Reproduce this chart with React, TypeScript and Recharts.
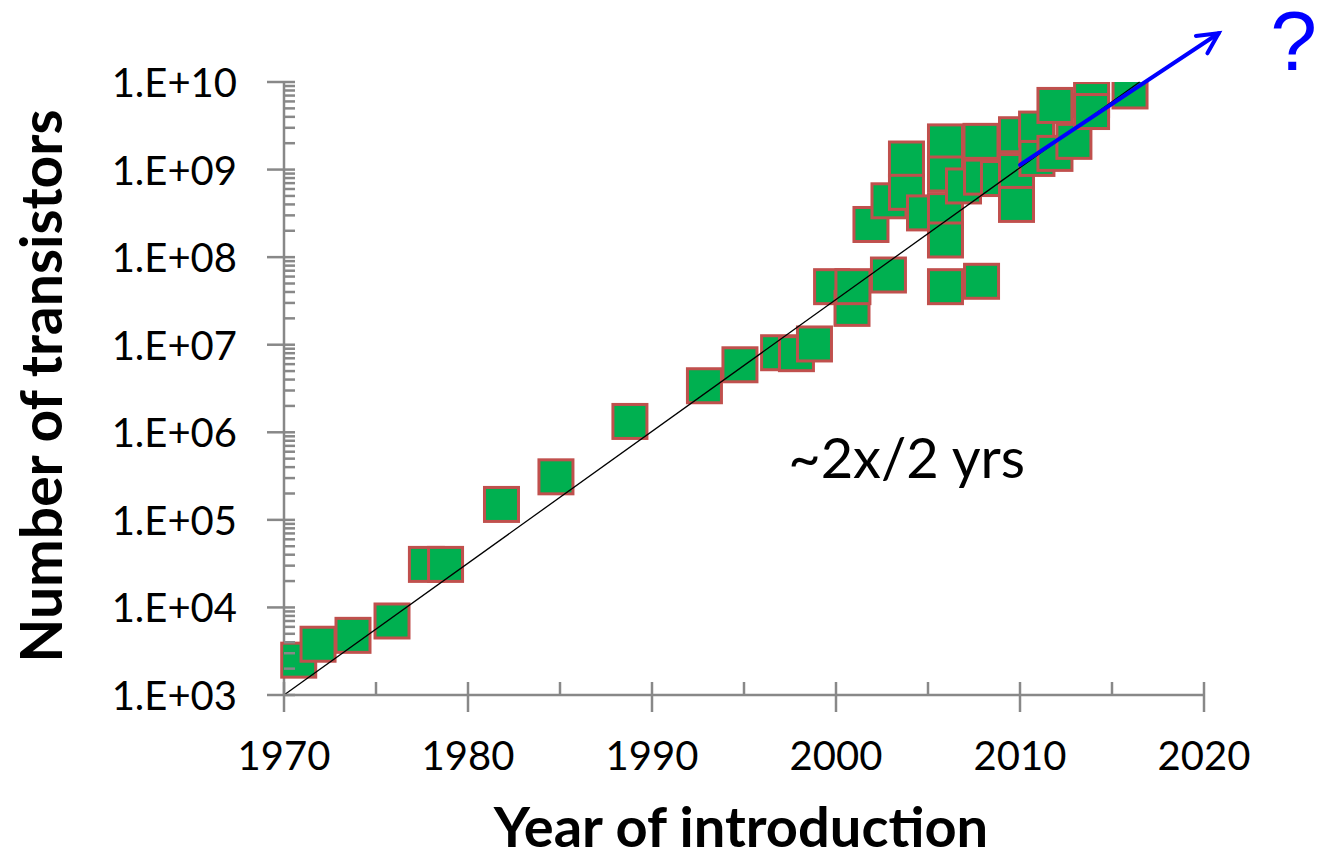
import { ScatterChart, Scatter, XAxis, YAxis, ReferenceLine, ReferenceDot, Label } from "recharts";

// year of introduction and transistor count per chip
const introYears = [
  1970.8, 1971.85, 1973.75, 1975.87, 1977.74, 1978.78, 1981.82, 1984.78, 1988.8, 1992.85,
  1994.78, 1996.88, 1997.85, 1998.83, 1999.76, 2000.87, 2000.92, 2001.9, 2002.85, 2002.88,
  2003.83, 2003.83, 2004.81, 2005.95, 2005.95, 2005.95, 2005.95, 2005.95, 2006.93, 2007.88,
  2007.91, 2007.91, 2008.83, 2009.81, 2009.81, 2009.81, 2010.9, 2010.92, 2011.9, 2011.9,
  2012.93, 2013.89, 2013.89, 2015.98,
];
const transistorCounts = [
  2.5e3, 3.8e3, 4.8e3, 7.0e3, 3.1e4, 3.1e4, 1.5e5, 3.1e5, 1.33e6, 3.4e6,
  5.9e6, 8.1e6, 7.9e6, 1.02e7, 4.6e7, 2.6e7, 4.6e7, 2.36e8, 6.25e7, 4.4e8,
  1.32e9, 5.5e8, 3.2e8, 2.07e9, 8.9e8, 3.4e8, 1.57e8, 4.6e7, 6.5e8, 2.1e9,
  8.2e8, 5.3e7, 7.9e8, 2.5e9, 9.5e8, 4.0e8, 2.9e9, 1.34e9, 5.4e9, 1.53e9,
  2.1e9, 6.3e9, 4.6e9, 7.9e9,
];

// doubling every two years, and the extrapolation arrow
const trendLine = [
  { year: 1970, count: 1e3 },
  { year: 2016.5, count: 1e10 },
];
const arrowLine = [
  { year: 2010, count: 1.13e9 },
  { year: 2020.8, count: 3.6e10 },
];

const xTicks = [1970, 1975, 1980, 1985, 1990, 1995, 2000, 2005, 2010, 2015, 2020];
const xMajorTicks = [1970, 1980, 1990, 2000, 2010, 2020];
const yMajorTicks = [1e3, 1e4, 1e5, 1e6, 1e7, 1e8, 1e9, 1e10];
const yTickLabels = ["1.E+03", "1.E+04", "1.E+05", "1.E+06", "1.E+07", "1.E+08", "1.E+09", "1.E+10"];
const yMinorSteps = [2, 3, 4, 5, 6, 7, 8, 9];

const yTicks = yMajorTicks.flatMap((m, i) =>
  i < yMajorTicks.length - 1 ? [m, ...yMinorSteps.map((k) => k * m)] : [m]
);

const points = introYears.map((year, i) => ({ year, count: transistorCounts[i] }));

const AXIS = "#888888";
const FONT = "Lato, 'Open Sans', sans-serif";

function Square(props: any) {
  const { cx, cy } = props;
  return (
    <rect x={cx - 17} y={cy - 17} width={34} height={34} fill="#00B050" stroke="#C0504D" strokeWidth={3} />
  );
}

function YTick(props: any) {
  const { x, y, payload } = props;
  const idx = yMajorTicks.findIndex((m) => Math.abs(m - payload.value) / m < 1e-6);
  if (idx < 0) {
    return <line x1={x} x2={x + 11} y1={y} y2={y} stroke={AXIS} strokeWidth={2.5} />;
  }
  return (
    <g>
      <line x1={x - 17} x2={x + 11} y1={y} y2={y} stroke={AXIS} strokeWidth={2.5} />
      <text x={x - 47} y={y} textAnchor="end" dominantBaseline="central" fontSize={40} fontFamily={FONT} fill="#000">
        {yTickLabels[idx]}
      </text>
    </g>
  );
}

function XTick(props: any) {
  const { x, y, payload } = props;
  const major = xMajorTicks.includes(payload.value);
  if (!major) {
    return <line x1={x} x2={x} y1={y - 13} y2={y} stroke={AXIS} strokeWidth={2.5} />;
  }
  return (
    <g>
      <line x1={x} x2={x} y1={y - 13} y2={y + 17} stroke={AXIS} strokeWidth={2.5} />
      <text x={x} y={y + 75} textAnchor="middle" fontSize={40} fontFamily={FONT} fill="#000">
        {payload.value}
      </text>
    </g>
  );
}

function Arrow(props: any) {
  const { x1, y1, x2, y2 } = props;
  const ang = Math.atan2(y2 - y1, x2 - x1);
  const len = 23;
  const spread = (27 * Math.PI) / 180;
  const a1 = ang + Math.PI - spread;
  const a2 = ang + Math.PI + spread;
  return (
    <g stroke="#0000FF" strokeWidth={4} strokeLinecap="round" fill="none">
      <line x1={x1} y1={y1} x2={x2} y2={y2} />
      <polyline
        points={`${x2 + len * Math.cos(a1)},${y2 + len * Math.sin(a1)} ${x2},${y2} ${x2 + len * Math.cos(a2)},${y2 + len * Math.sin(a2)}`}
      />
    </g>
  );
}

export default function App() {
  return (
    <div style={{ position: "absolute", left: 0, top: 0, background: "#fff", fontFamily: FONT }}>
      <ScatterChart width={1320} height={859} margin={{ top: 82, right: 116, bottom: 0, left: 0 }}>
        <XAxis
          type="number"
          dataKey="year"
          domain={[1970, 2020]}
          ticks={xTicks}
          interval={0}
          height={164}
          tickSize={0}
          tickMargin={0}
          tickLine={false}
          axisLine={{ stroke: AXIS, strokeWidth: 2.5 }}
          tick={<XTick />}
        >
          <Label
            content={(p: any) => {
              const vb = p.viewBox;
              return (
                <text x={vb.x + vb.width / 2 - 3} y={847} textAnchor="middle" fontSize={56} fontWeight={700} fontFamily={FONT} fill="#000">
                  Year of introduction
                </text>
              );
            }}
          />
        </XAxis>
        <YAxis
          type="number"
          dataKey="count"
          scale="log"
          domain={[1e3, 1e10]}
          allowDataOverflow
          ticks={yTicks}
          interval={0}
          width={284}
          tickSize={0}
          tickMargin={0}
          tickLine={false}
          axisLine={{ stroke: AXIS, strokeWidth: 2.5 }}
          tick={<YTick />}
        >
          <Label
            content={() => (
              <text
                x={40}
                y={386}
                transform="rotate(-90 40 386)"
                textAnchor="middle"
                dominantBaseline="central"
                fontSize={57}
                fontWeight={700}
                fontFamily={FONT}
                fill="#000"
              >
                Number of transistors
              </text>
            )}
          />
        </YAxis>
        <Scatter data={points} shape={<Square />} isAnimationActive={false} />
        <ReferenceLine
          segment={[
            { x: trendLine[0].year, y: trendLine[0].count },
            { x: trendLine[1].year, y: trendLine[1].count },
          ]}
          stroke="#000"
          strokeWidth={1.3}
          ifOverflow="visible"
          {...({ zIndex: 1000 } as any)}
        />
        <ReferenceLine
          segment={[
            { x: arrowLine[0].year, y: arrowLine[0].count },
            { x: arrowLine[1].year, y: arrowLine[1].count },
          ]}
          ifOverflow="visible"
          shape={<Arrow />}
          {...({ zIndex: 1001 } as any)}
        />
        <ReferenceDot
          x={1997.4}
          y={3.0e5}
          ifOverflow="visible"
          shape={(p: any) => (
            <text x={p.cx} y={p.cy} fontSize={56} fontFamily={FONT} fill="#000">
              ~2x/2 yrs
            </text>
          )}
        />
        <ReferenceDot
          x={2023.6}
          y={1.37e10}
          ifOverflow="visible"
          shape={(p: any) => (
            <text x={p.cx} y={p.cy} fontSize={84} fontFamily="'Liberation Sans', Arial, sans-serif" fill="#0000FF">
              ?
            </text>
          )}
        />
      </ScatterChart>
    </div>
  );
}
